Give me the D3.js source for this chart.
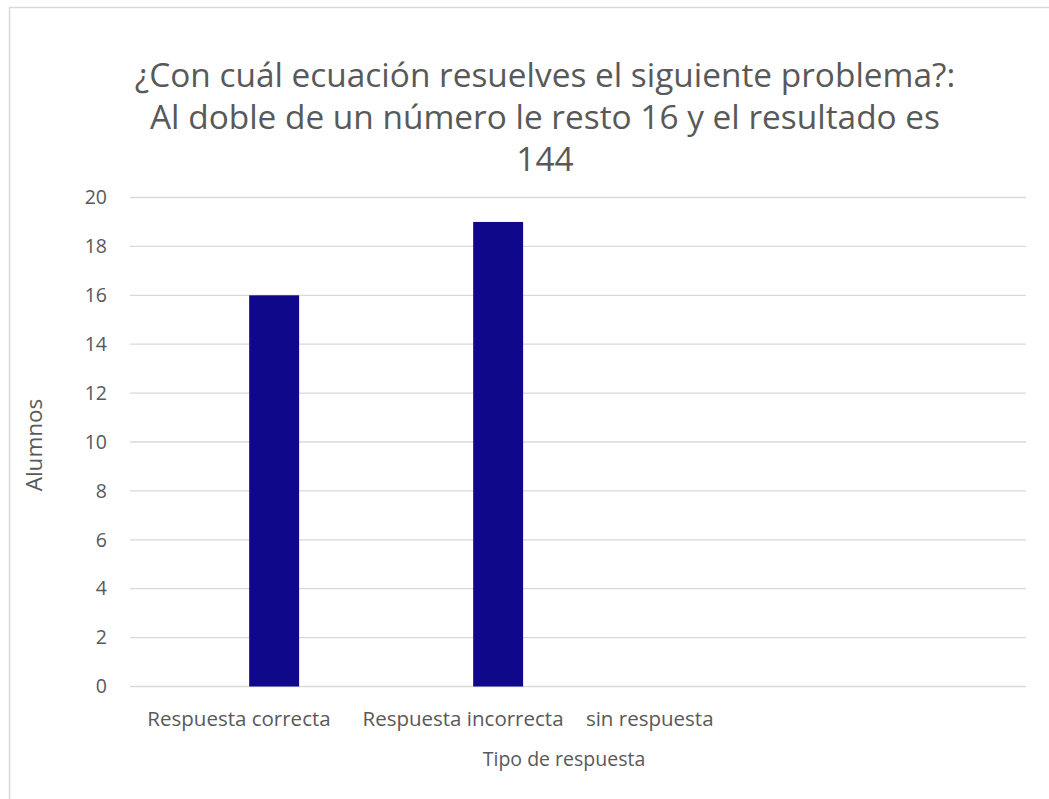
<!DOCTYPE html>
<html>
<head>
<meta charset="utf-8">
<script src="https://cdn.jsdelivr.net/npm/d3@7"></script>
<style>
  html, body { margin: 0; padding: 0; background: #fff; }
  svg { display: block; font-family: "Open Sans", "Noto Sans", sans-serif; }
</style>
</head>
<body>
<svg id="chart" width="1049" height="799"></svg>
<script>
// Chart data
const categories = ["Respuesta correcta", "Respuesta incorrecta", "sin respuesta", ""];
const categoryLabels = ["Respuesta correcta", "Respuesta incorrecta", "sin respuesta\u00a0\u00a0\u00a0\u00a0\u00a0\u00a0\u00a0\u00a0\u00a0\u00a0\u00a0\u00a0\u00a0\u00a0", ""];
const alumnos = [16, 19, 0, null];
const yTicks = [0, 2, 4, 6, 8, 10, 12, 14, 16, 18, 20];
const titleLines = [
  "¿Con cuál ecuación resuelves el siguiente problema?:",
  "Al doble de un número le resto 16 y el resultado es",
  "144"
];
const xTitle = "Tipo de respuesta";
const yTitle = "Alumnos";

const svg = d3.select("#chart");
const textColor = "#595959";
const gridColor = "#d9d9d9";
const barColor = "#10088a";

// Chart-area frame
svg.append("rect")
  .attr("x", 9.5).attr("y", 7.5)
  .attr("width", 1100).attr("height", 900)
  .attr("fill", "#fff")
  .attr("stroke", gridColor)
  .attr("stroke-width", 1.5);

const plot = { left: 130, right: 1026, top: 197.5, bottom: 686.5 };

const x = d3.scaleBand()
  .domain(categories)
  .range([plot.left, plot.right])
  .padding(0);

const y = d3.scaleLinear()
  .domain([0, 20])
  .range([plot.bottom, plot.top]);

// Horizontal gridlines
svg.append("g")
  .selectAll("line")
  .data(yTicks)
  .join("line")
  .attr("x1", plot.left).attr("x2", plot.right)
  .attr("y1", d => y(d)).attr("y2", d => y(d))
  .attr("stroke", gridColor)
  .attr("stroke-width", 1.3);

// Y axis labels
const yAxis = d3.axisLeft(y).tickValues(yTicks).tickSize(0).tickPadding(0);
const yg = svg.append("g")
  .attr("transform", `translate(${plot.left - 23},0)`)
  .call(yAxis);
yg.select(".domain").remove();
yg.selectAll("text")
  .attr("fill", textColor)
  .attr("font-size", 19.5)
  .attr("font-family", "Open Sans, sans-serif");

// Bars
const barOffset = x.bandwidth() * 0.532;
const barWidth = x.bandwidth() * 0.223;
svg.append("g")
  .selectAll("rect")
  .data(categories.map((c, i) => ({ c, v: alumnos[i] })).filter(d => d.v))
  .join("rect")
  .attr("x", d => x(d.c) + barOffset)
  .attr("width", barWidth)
  .attr("y", d => y(d.v))
  .attr("height", d => y(0) - y(d.v))
  .attr("fill", barColor);

// Category labels
const xAxis = d3.axisBottom(x)
  .tickSize(0)
  .tickPadding(0)
  .tickFormat((d, i) => categoryLabels[i]);
const xg = svg.append("g")
  .attr("transform", `translate(-3,${plot.bottom + 39})`)
  .call(xAxis);
xg.select(".domain").remove();
xg.selectAll("text")
  .attr("dy", 0)
  .attr("fill", textColor)
  .attr("font-size", 20.5)
  .attr("font-family", "Open Sans, sans-serif")
  .style("white-space", "pre");

// Axis titles
svg.append("text")
  .attr("x", 564).attr("y", 766)
  .attr("text-anchor", "middle")
  .attr("fill", textColor)
  .attr("font-size", 19.5)
  .text(xTitle);

svg.append("text")
  .attr("transform", `translate(42,${(plot.top + plot.bottom) / 2 + 3}) rotate(-90)`)
  .attr("text-anchor", "middle")
  .attr("fill", textColor)
  .attr("font-size", 22.5)
  .text(yTitle);

// Title
svg.append("g")
  .selectAll("text")
  .data(titleLines)
  .join("text")
  .attr("x", 545)
  .attr("y", (d, i) => 87 + i * 42)
  .attr("text-anchor", "middle")
  .attr("fill", textColor)
  .attr("font-size", 33.4)
  .text(d => d);
</script>
</body>
</html>
